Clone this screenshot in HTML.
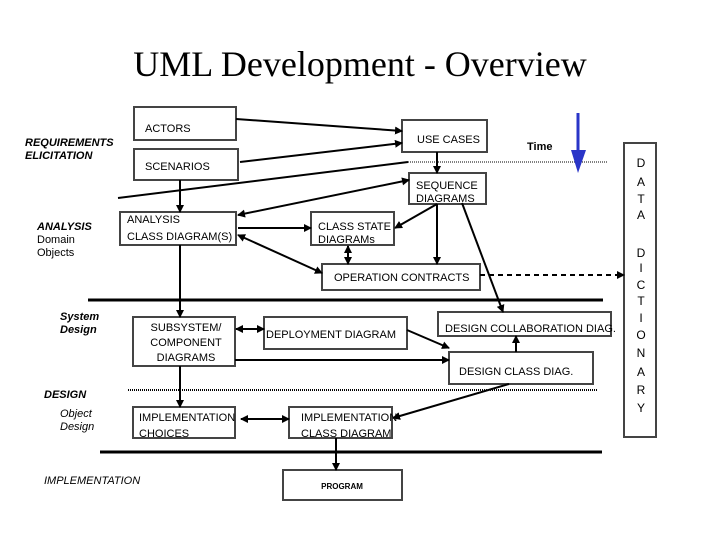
<!DOCTYPE html>
<html><head><meta charset="utf-8"><style>
html,body{margin:0;padding:0;background:#fff}
svg{display:block}
text{font-family:"Liberation Sans",sans-serif;font-size:12px;fill:#000}
</style></head><body>
<svg width="720" height="540" viewBox="0 0 720 540" xmlns="http://www.w3.org/2000/svg">
<defs>
<marker id="a" markerWidth="8" markerHeight="8" refX="7" refY="4" orient="auto" markerUnits="userSpaceOnUse"><path d="M0,0 L8,4 L0,8 z" fill="#000"/></marker>
<marker id="s" markerWidth="8" markerHeight="8" refX="1" refY="4" orient="auto" markerUnits="userSpaceOnUse"><path d="M8,0 L0,4 L8,8 z" fill="#000"/></marker>
</defs>
<text x="360" y="76" text-anchor="middle" style="font-family:'Liberation Serif',serif;font-size:36px">UML Development - Overview</text>

<g fill="none" stroke="#444" stroke-width="2">
<rect x="134" y="107" width="102" height="33"/>
<rect x="134" y="149" width="104" height="31"/>
<rect x="402" y="120" width="85" height="32"/>
<rect x="409" y="173" width="77" height="31"/>
<rect x="120" y="212" width="116" height="33"/>
<rect x="311" y="212" width="83" height="33"/>
<rect x="322" y="264" width="158" height="26"/>
<rect x="624" y="143" width="32" height="294"/>
<rect x="133" y="317" width="102" height="49"/>
<rect x="264" y="317" width="143" height="32"/>
<rect x="438" y="312" width="173" height="24"/>
<rect x="449" y="352" width="144" height="32"/>
<rect x="133" y="407" width="102" height="31"/>
<rect x="289" y="407" width="103" height="31"/>
<rect x="283" y="470" width="119" height="30"/>
</g>

<g stroke="#000" stroke-width="2" fill="none">
<line x1="236" y1="119" x2="402" y2="131" marker-end="url(#a)"/>
<line x1="240" y1="162" x2="402" y2="143" marker-end="url(#a)"/>
<line x1="118" y1="198" x2="408" y2="162"/>
<line x1="238" y1="215" x2="409" y2="180" marker-start="url(#s)" marker-end="url(#a)"/>
<line x1="180" y1="180" x2="180" y2="212" marker-end="url(#a)"/>
<line x1="238" y1="228" x2="311" y2="228" marker-end="url(#a)"/>
<line x1="238" y1="235" x2="322" y2="273" marker-start="url(#s)" marker-end="url(#a)"/>
<line x1="348" y1="246" x2="348" y2="264" marker-start="url(#s)" marker-end="url(#a)"/>
<line x1="437" y1="152" x2="437" y2="173" marker-end="url(#a)"/>
<line x1="437" y1="204" x2="437" y2="264" marker-end="url(#a)"/>
<line x1="437" y1="204" x2="395" y2="228" marker-end="url(#a)"/>
<line x1="462" y1="203" x2="503" y2="312" marker-end="url(#a)"/>
<line x1="480" y1="275" x2="624" y2="275" stroke-dasharray="5,4" marker-end="url(#a)"/>
<line x1="180" y1="245" x2="180" y2="317" marker-end="url(#a)"/>
<line x1="236" y1="329" x2="264" y2="329" marker-start="url(#s)" marker-end="url(#a)"/>
<line x1="407" y1="330" x2="449" y2="348" marker-end="url(#a)"/>
<line x1="235" y1="360" x2="449" y2="360" marker-end="url(#a)"/>
<line x1="516" y1="352" x2="516" y2="336" marker-end="url(#a)"/>
<line x1="509" y1="384" x2="393" y2="418" marker-end="url(#a)"/>
<line x1="180" y1="366" x2="180" y2="407" marker-end="url(#a)"/>
<line x1="241" y1="419" x2="289" y2="419" marker-start="url(#s)" marker-end="url(#a)"/>
<line x1="336" y1="438" x2="336" y2="470" marker-end="url(#a)"/>
</g>
<line x1="408" y1="162" x2="607" y2="162" stroke="#000" stroke-width="1" stroke-dasharray="1,1"/>
<line x1="128" y1="390" x2="598" y2="390" stroke="#000" stroke-width="2" stroke-dasharray="1,1"/>
<line x1="88" y1="300" x2="603" y2="300" stroke="#000" stroke-width="3"/>
<line x1="100" y1="452" x2="602" y2="452" stroke="#000" stroke-width="3"/>
<line x1="578" y1="113" x2="578" y2="160" stroke="#2a35c8" stroke-width="3"/>
<path d="M571,150 L586,150 L578,173 z" fill="#2a35c8"/>

<text x="25" y="146" style="font-weight:bold;font-style:italic;font-size:11px">REQUIREMENTS</text>
<text x="25" y="159" style="font-weight:bold;font-style:italic;font-size:11px">ELICITATION</text>
<text x="37" y="230" style="font-weight:bold;font-style:italic;font-size:11px">ANALYSIS</text>
<text x="60" y="320" style="font-weight:bold;font-style:italic;font-size:11px">System</text>
<text x="60" y="333" style="font-weight:bold;font-style:italic;font-size:11px">Design</text>
<text x="44" y="398" style="font-weight:bold;font-style:italic;font-size:11px">DESIGN</text>
<text x="37" y="243" style="font-size:11px">Domain</text>
<text x="37" y="256" style="font-size:11px">Objects</text>
<text x="60" y="417" style="font-style:italic;font-size:11px">Object</text>
<text x="60" y="430" style="font-style:italic;font-size:11px">Design</text>
<text x="44" y="484" style="font-style:italic;font-size:11px">IMPLEMENTATION</text>
<text x="527" y="150" style="font-weight:bold;font-size:11px">Time</text>

<text x="145" y="132" style="font-size:11px">ACTORS</text>
<text x="145" y="170" style="font-size:11px">SCENARIOS</text>
<text x="417" y="143" style="font-size:11px">USE CASES</text>
<text x="416" y="189" style="font-size:11px">SEQUENCE</text>
<text x="416" y="202" style="font-size:11px">DIAGRAMS</text>
<text x="127" y="223" style="font-size:11px">ANALYSIS</text>
<text x="127" y="240" style="font-size:11px">CLASS DIAGRAM(S)</text>
<text x="318" y="230" style="font-size:11px">CLASS STATE</text>
<text x="318" y="243" style="font-size:11px">DIAGRAMs</text>
<text x="334" y="281" style="font-size:11px">OPERATION CONTRACTS</text>
<text x="186" y="331" text-anchor="middle" style="font-size:11px">SUBSYSTEM/</text>
<text x="186" y="346" text-anchor="middle" style="font-size:11px">COMPONENT</text>
<text x="186" y="361" text-anchor="middle" style="font-size:11px">DIAGRAMS</text>
<text x="266" y="338" style="font-size:11px">DEPLOYMENT DIAGRAM</text>
<text x="445" y="332" style="font-size:11px">DESIGN COLLABORATION  DIAG.</text>
<text x="459" y="375" style="font-size:11px">DESIGN CLASS DIAG.</text>
<text x="139" y="421" style="font-size:11px">IMPLEMENTATION</text>
<text x="139" y="437" style="font-size:11px">CHOICES</text>
<text x="301" y="421" style="font-size:11px">IMPLEMENTATION</text>
<text x="301" y="437" style="font-size:11px">CLASS DIAGRAM</text>
<text x="342" y="489" text-anchor="middle" style="font-size:8px;font-weight:bold">PROGRAM</text>

<g style="font-size:13px" text-anchor="middle">
<text x="641" y="167">D</text><text x="641" y="186">A</text><text x="641" y="203">T</text><text x="641" y="219">A</text>
<text x="641" y="257">D</text><text x="641" y="272">I</text><text x="641" y="289">C</text><text x="641" y="305">T</text>
<text x="641" y="322">I</text><text x="641" y="339">O</text><text x="641" y="357">N</text><text x="641" y="376">A</text>
<text x="641" y="394">R</text><text x="641" y="412">Y</text>
</g>
</svg>
</body></html>
